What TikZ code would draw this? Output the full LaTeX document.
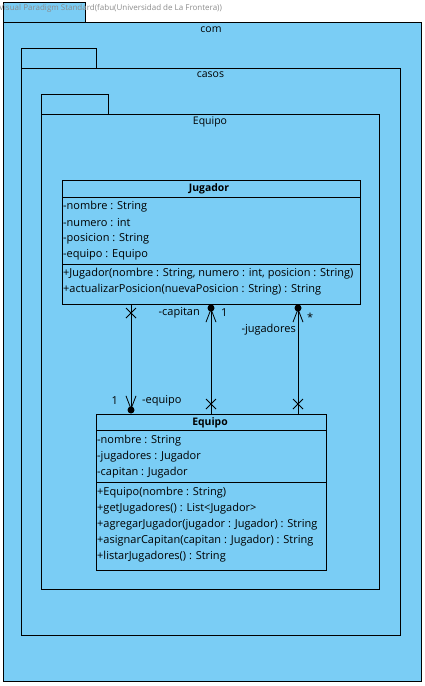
\documentclass[tikz,border=0pt]{standalone}
\usepackage{fontspec}
\setmainfont{Open Sans}
\usepackage{tikz}
\usetikzlibrary{arrows.meta}
\definecolor{vpblue}{RGB}{122,205,245}
\tikzset{
  box/.style = {draw=black, fill=vpblue, anchor=north west, inner sep=0pt,
    line width=1pt},% paquete o clase
  pkgname/.style = {inner sep=0pt, font=\fontsize{10.5}{12}\selectfont},
  classname/.style = {inner sep=0pt, font=\fontsize{10.4}{12}\selectfont\bfseries},
  member/.style = {anchor=west, inner sep=0pt,
    font=\fontsize{11}{12}\selectfont},% atributo u operacion
  rolename/.style = {inner sep=0pt, font=\fontsize{11}{12}\selectfont},
  assoc/.style = {draw=black, line width=0.8pt},
  navend/.style = {-{Straight Barb[length=13pt,width=10pt]}},% extremo navegable
  ownend/.style = {fill=black},% punto de propiedad
  xmark/.pic = {\draw[line width=0.8pt] (-5,-5) -- (5,5) (-5,5) -- (5,-5);}% no navegable
}

\begin{document}
\begin{tikzpicture}[x=1pt, y=-1pt]
  \useasboundingbox (0,0) rectangle (425,686);
  % paquetes
  \node [box, minimum width=82, minimum height=20] (comtab) at (3,2) {};
  \node [box, minimum width=418, minimum height=659] (com) at (3,22) {};
  \node [pkgname] (comname) at (211,30) {com};
  \node [box, minimum width=75, minimum height=20] (casostab) at (21,48) {};
  \node [box, minimum width=379, minimum height=567] (casos) at (21,68) {};
  \node [pkgname] (casosname) at (210.5,75) {casos};
  \node [box, minimum width=67, minimum height=20] (equipotab) at (41,94) {};
  \node [box, minimum width=338, minimum height=475] (equipopkg) at (41,114) {};
  \node [pkgname] (equiponame) at (210,122) {Equipo};

  % clase Jugador
  \node [box, minimum width=298, minimum height=124] (jugador) at (62,180) {};
  \draw [line width=1pt] (62,197) -- (360,197) (62,264) -- (360,264);
  \node [classname] (jugadorname) at (209,188.5) {Jugador};
  \foreach \txt [count=\i] in {{-nombre : String}, {-numero : int},
      {-posicion : String}, {-equipo : Equipo}}
    \node [member] (jattr\i) at (63,190.5+16*\i) {\txt};
  \foreach \txt [count=\i] in {{+Jugador(nombre : String, numero : int, posicion : String)},
      {+actualizarPosicion(nuevaPosicion : String) : String}}
    \node [member] (jop\i) at (63,257.5+16*\i) {\txt};

  % clase Equipo
  \node [box, minimum width=230, minimum height=156] (equipo) at (96,414) {};
  \draw [line width=1pt] (96,430) -- (326,430) (96,482) -- (326,482);
  \node [classname] (equiponame) at (210,422.5) {Equipo};
  \foreach \txt [count=\i] in {{-nombre : String}, {-jugadores : Jugador},
      {-capitan : Jugador}}
    \node [member] (eattr\i) at (97,424.5+16*\i) {\txt};
  \foreach \txt [count=\i] in {{+Equipo(nombre : String)}, {+getJugadores() : List<Jugador>},
      {+agregarJugador(jugador : Jugador) : String},
      {+asignarCapitan(capitan : Jugador) : String}, {+listarJugadores() : String}}
    \node [member] (eop\i) at (97,476.5+16*\i) {\txt};

  % asociaciones
  \coordinate (equipoA) at (131,304);
  \coordinate (equipoB) at (131,410);
  \draw [assoc, navend] (equipoA) -- (equipoB);
  \fill [ownend] (equipoB) circle (3.5pt);
  \pic at (131,313) {xmark};
  \node [rolename, anchor=east] (equipomult) at (118,401) {1};
  \node [rolename, anchor=west] (equiporole) at (142,401) {-equipo};

  \coordinate (capitanA) at (211,414);
  \coordinate (capitanB) at (211,308);
  \draw [assoc, navend] (capitanA) -- (capitanB);
  \fill [ownend] (capitanB) circle (3.5pt);
  \pic at (211,404) {xmark};
  \node [rolename, anchor=east] (capitanrole) at (200,313) {-capitan};
  \node [rolename, anchor=west] (capitanmult) at (221,313) {1};

  \coordinate (jugadoresA) at (298,414);
  \coordinate (jugadoresB) at (298,308);
  \draw [assoc, navend] (jugadoresA) -- (jugadoresB);
  \fill [ownend] (jugadoresB) circle (3.5pt);
  \pic at (298,404) {xmark};
  \node [rolename, anchor=west] (jugadoresmult) at (307,317) {*};
  \node [rolename, anchor=east] (jugadoresrole) at (296,330) {-jugadores};

  % marca de agua
  \node [anchor=west, inner sep=0pt, text=gray!90, font=\fontsize{8}{9}\selectfont]
    (marca) at (-1,8) {Visual Paradigm Standard(fabu(Universidad de La Frontera))};
\end{tikzpicture}
\end{document}
